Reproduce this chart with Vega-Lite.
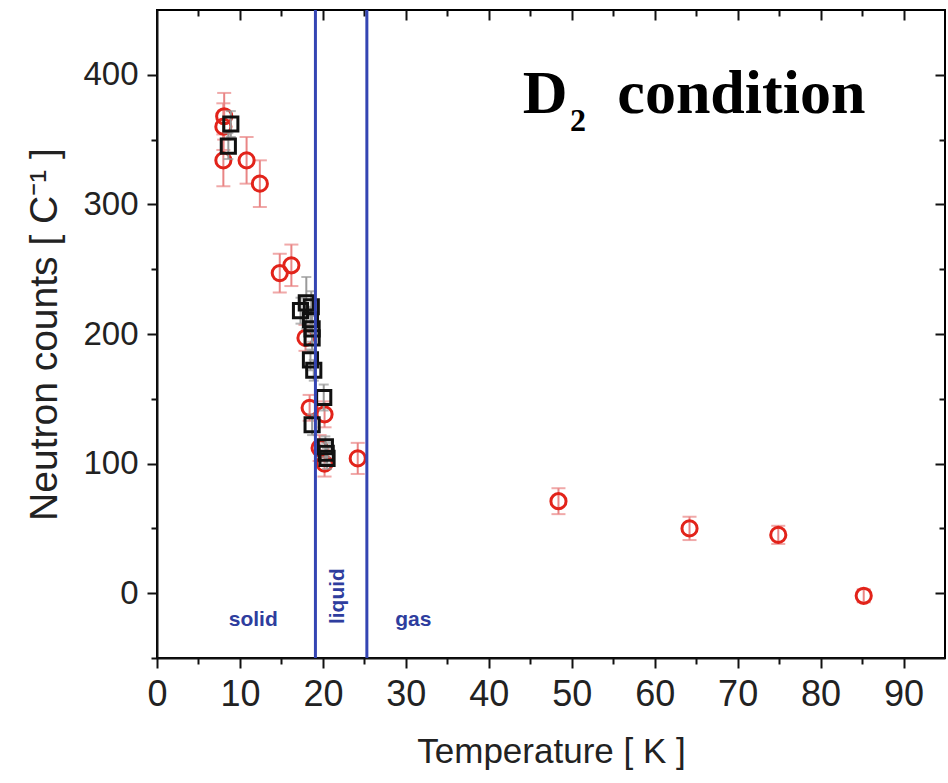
{
  "$schema": "https://vega.github.io/schema/vega-lite/v6.json",
  "width": 788,
  "height": 648,
  "autosize": {"type": "none"},
  "padding": {"left": 157, "top": 10, "right": 3, "bottom": 125},
  "background": "white",
  "config": {
    "view": {"stroke": "#000", "strokeWidth": 2},
    "axis": {"grid": false, "labelFont": "Liberation Sans", "titleFont": "Liberation Sans", "labelColor": "#222", "titleColor": "#222", "tickColor": "#111", "tickWidth": 2, "domainColor": "#111", "domainWidth": 2, "labelFlush": false, "labelOverlap": false, "titleFontWeight": "normal"}
  },
  "datasets": {
    "red": [
      {"T": 8.1, "N": 368, "err": 18},
      {"T": 8.0, "N": 360, "err": 18},
      {"T": 8.0, "N": 334, "err": 20},
      {"T": 10.8, "N": 334, "err": 18},
      {"T": 12.4, "N": 316, "err": 18},
      {"T": 14.8, "N": 247, "err": 15},
      {"T": 16.2, "N": 253, "err": 16},
      {"T": 17.9, "N": 197, "err": 10},
      {"T": 18.4, "N": 143, "err": 10},
      {"T": 20.2, "N": 138, "err": 10},
      {"T": 19.6, "N": 112, "err": 10},
      {"T": 20.2, "N": 100, "err": 10},
      {"T": 24.2, "N": 104, "err": 12},
      {"T": 48.4, "N": 71, "err": 10},
      {"T": 64.2, "N": 50, "err": 9},
      {"T": 74.9, "N": 45, "err": 7},
      {"T": 85.2, "N": -2, "err": 5}
    ],
    "black": [
      {"T": 8.9, "N": 362, "err": 10},
      {"T": 8.6, "N": 345, "err": 10},
      {"T": 17.3, "N": 218, "err": 10},
      {"T": 18.0, "N": 224, "err": 20},
      {"T": 18.6, "N": 221, "err": 12},
      {"T": 18.5, "N": 211, "err": 10},
      {"T": 18.7, "N": 204, "err": 10},
      {"T": 18.7, "N": 197, "err": 10},
      {"T": 18.5, "N": 180, "err": 8},
      {"T": 18.9, "N": 172, "err": 8},
      {"T": 20.1, "N": 151, "err": 10},
      {"T": 18.7, "N": 130, "err": 8},
      {"T": 20.3, "N": 113, "err": 8},
      {"T": 20.4, "N": 108, "err": 8},
      {"T": 20.5, "N": 104, "err": 8}
    ],
    "phase": [
      {"T": 19.1},
      {"T": 25.3}
    ]
  },
  "layer": [
    {
      "data": {"name": "red"},
      "mark": {"type": "errorbar", "color": "#e98585", "thickness": 2, "ticks": {"size": 14}},
      "encoding": {
        "x": {"field": "T", "type": "quantitative", "scale": {"domain": [0, 95], "nice": false, "zero": false}, "axis": null},
        "y": {"field": "N", "type": "quantitative", "scale": {"domain": [-50, 450], "nice": false, "zero": false}, "axis": null},
        "yError": {"field": "err"}
      }
    },
    {
      "data": {"name": "red"},
      "mark": {"type": "point", "shape": "circle", "filled": false, "color": "#e2231a", "strokeWidth": 3, "size": 230, "opacity": 1},
      "encoding": {
        "x": {"field": "T", "type": "quantitative", "scale": {"domain": [0, 95], "nice": false, "zero": false},
          "axis": {"orient": "bottom", "values": [0,10,20,30,40,50,60,70,80,90], "tickSize": 10,
            "labelFontSize": 36, "labelPadding": 9, "title": "Temperature [ K ]", "titleFontSize": 35, "titlePadding": 22}},
        "y": {"field": "N", "type": "quantitative", "scale": {"domain": [-50, 450], "nice": false, "zero": false},
          "axis": {"orient": "left", "values": [0,100,200,300,400], "tickSize": 10,
            "labelFontSize": 33, "labelPadding": 9, "title": "Neutron counts [ C⁻¹ ]", "titleFontSize": 39, "titlePadding": 18}}
      }
    },
    {
      "data": {"name": "black"},
      "mark": {"type": "errorbar", "color": "#999999", "thickness": 2, "ticks": {"size": 10}},
      "encoding": {
        "x": {"field": "T", "type": "quantitative", "axis": null},
        "y": {"field": "N", "type": "quantitative", "axis": null},
        "yError": {"field": "err"}
      }
    },
    {
      "data": {"name": "black"},
      "mark": {"type": "point", "shape": "square", "filled": false, "color": "#111111", "strokeWidth": 3, "size": 200, "opacity": 1},
      "encoding": {
        "x": {"field": "T", "type": "quantitative",
          "axis": {"orient": "top", "values": [10,20,30,40,50,60,70,80,90], "labels": false, "domain": false, "title": null, "tickSize": -10}},
        "y": {"field": "N", "type": "quantitative",
          "axis": {"orient": "right", "values": [0,100,200,300,400], "labels": false, "domain": false, "title": null, "tickSize": -10}}
      }
    },
    {
      "data": {"name": "phase"},
      "mark": {"type": "rule", "color": "#3445b3", "strokeWidth": 3},
      "encoding": {
        "x": {"field": "T", "type": "quantitative",
          "axis": {"orient": "bottom", "values": [5,15,25,35,45,55,65,75,85], "labels": false, "domain": false, "title": null, "tickSize": 6}}
      }
    },
    {
      "data": {"values": [{}]},
      "mark": {"type": "text", "text": "solid", "font": "Liberation Sans", "fontSize": 21, "fontWeight": "bold", "color": "#2e3d9e", "align": "center", "baseline": "middle"},
      "encoding": {
        "x": {"datum": 11.6, "type": "quantitative",
          "axis": {"orient": "top", "values": [5,15,25,35,45,55,65,75,85], "labels": false, "domain": false, "title": null, "tickSize": -6}},
        "y": {"datum": -20.7, "type": "quantitative",
          "axis": {"orient": "left", "values": [-50,50,150,250,350], "labels": false, "domain": false, "title": null, "tickSize": 6}}
      }
    },
    {
      "data": {"values": [{}]},
      "mark": {"type": "text", "text": "gas", "font": "Liberation Sans", "fontSize": 21, "fontWeight": "bold", "color": "#2e3d9e", "align": "center", "baseline": "middle"},
      "encoding": {
        "x": {"datum": 30.9, "type": "quantitative", "axis": null},
        "y": {"datum": -20.7, "type": "quantitative",
          "axis": {"orient": "right", "values": [50,150,250,350], "labels": false, "domain": false, "title": null, "tickSize": -6}}
      }
    },
    {
      "data": {"values": [{}]},
      "mark": {"type": "text", "text": "liquid", "font": "Liberation Sans", "fontSize": 21, "fontWeight": "bold", "color": "#2e3d9e", "align": "center", "baseline": "middle", "angle": 270},
      "encoding": {"x": {"datum": 21.8, "type": "quantitative", "axis": null}, "y": {"datum": -2.2, "type": "quantitative", "axis": null}}
    },
    {
      "data": {"values": [{}]},
      "mark": {"type": "text", "text": "D", "font": "Liberation Serif", "fontSize": 62, "fontWeight": "bold", "color": "#000", "align": "left", "baseline": "alphabetic"},
      "encoding": {"x": {"datum": 44.1, "type": "quantitative", "axis": null}, "y": {"datum": 370.7, "type": "quantitative", "axis": null}}
    },
    {
      "data": {"values": [{}]},
      "mark": {"type": "text", "text": "2", "font": "Liberation Serif", "fontSize": 32, "fontWeight": "bold", "color": "#000", "align": "left", "baseline": "alphabetic"},
      "encoding": {"x": {"datum": 49.8, "type": "quantitative", "axis": null}, "y": {"datum": 356.6, "type": "quantitative", "axis": null}}
    },
    {
      "data": {"values": [{}]},
      "mark": {"type": "text", "text": "condition", "font": "Liberation Serif", "fontSize": 62, "fontWeight": "bold", "color": "#000", "align": "left", "baseline": "alphabetic"},
      "encoding": {"x": {"datum": 55.5, "type": "quantitative", "axis": null}, "y": {"datum": 370.7, "type": "quantitative", "axis": null}}
    }
  ],
  "resolve": {"axis": {"x": "independent", "y": "independent"}}
}
